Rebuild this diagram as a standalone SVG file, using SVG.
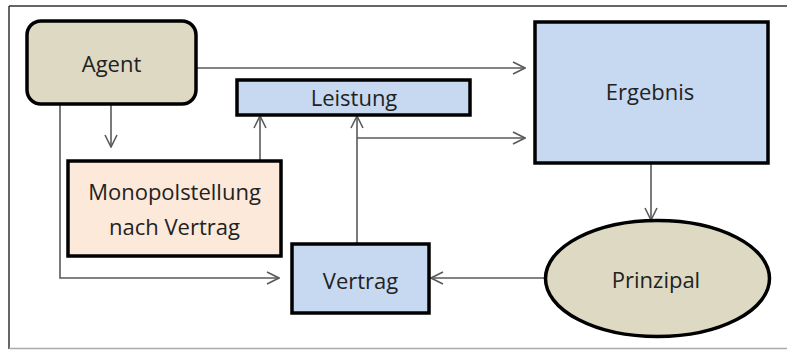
<svg xmlns="http://www.w3.org/2000/svg" width="787" height="350" viewBox="0 0 787 350">
<style>
.box{stroke:#000;stroke-width:3.5}
.lbl{font-family:"Open Sans","Liberation Sans",sans-serif;font-size:22px;font-weight:500;fill:#222;text-anchor:middle}
.con{fill:none;stroke:#5a5a5a;stroke-width:1.6}
</style>
<defs>
<marker id="ah" viewBox="0 0 14 14" refX="13" refY="7" markerWidth="14" markerHeight="14" markerUnits="userSpaceOnUse" orient="auto">
<path d="M1,1 L13,7 L1,13" fill="none" stroke="#5a5a5a" stroke-width="1.6"/>
</marker>
</defs>
<rect width="787" height="350" fill="#fff"/>
<g id="frame">
<line x1="9" y1="6" x2="787" y2="6" stroke="#333" stroke-width="1.5"/>
<line x1="9" y1="6" x2="9" y2="349" stroke="#333" stroke-width="1.5"/>
<line x1="9" y1="348.5" x2="787" y2="348.5" stroke="#aaa" stroke-width="1.5"/>
</g>
<g id="connectors">
<path class="con" d="M196,68 H525" marker-end="url(#ah)"/>
<path class="con" d="M357,138 H525" marker-end="url(#ah)"/>
<path class="con" d="M111,104 V147" marker-end="url(#ah)"/>
<path class="con" d="M260,161 V116" marker-end="url(#ah)"/>
<path class="con" d="M357,244 V116" marker-end="url(#ah)"/>
<path class="con" d="M60,104 V278 H279" marker-end="url(#ah)"/>
<path class="con" d="M651,163 V220" marker-end="url(#ah)"/>
<path class="con" d="M545,278 H431" marker-end="url(#ah)"/>
</g>
<g id="agent">
<rect class="box" x="27" y="21" width="169" height="83" rx="14" fill="#ddd9c3"/>
<text class="lbl" x="111.5" y="72">Agent</text>
</g>
<g id="leistung">
<rect class="box" x="237" y="80" width="233" height="35" fill="#c6d9f1"/>
<text class="lbl" x="354" y="106">Leistung</text>
</g>
<g id="ergebnis">
<rect class="box" x="535" y="22" width="233" height="141" fill="#c6d9f1"/>
<text class="lbl" x="650" y="100">Ergebnis</text>
</g>
<g id="monopolstellung">
<rect class="box" x="68" y="161" width="213" height="95" fill="#fde9d9"/>
<text class="lbl" x="174.5" y="200">Monopolstellung</text>
<text class="lbl" x="174.5" y="235">nach Vertrag</text>
</g>
<g id="vertrag">
<rect class="box" x="292" y="244" width="137" height="69" fill="#c6d9f1"/>
<text class="lbl" x="360.5" y="289">Vertrag</text>
</g>
<g id="prinzipal">
<ellipse class="box" cx="657.5" cy="278.5" rx="112" ry="58" fill="#ddd9c3"/>
<text class="lbl" x="656" y="288">Prinzipal</text>
</g>
</svg>
